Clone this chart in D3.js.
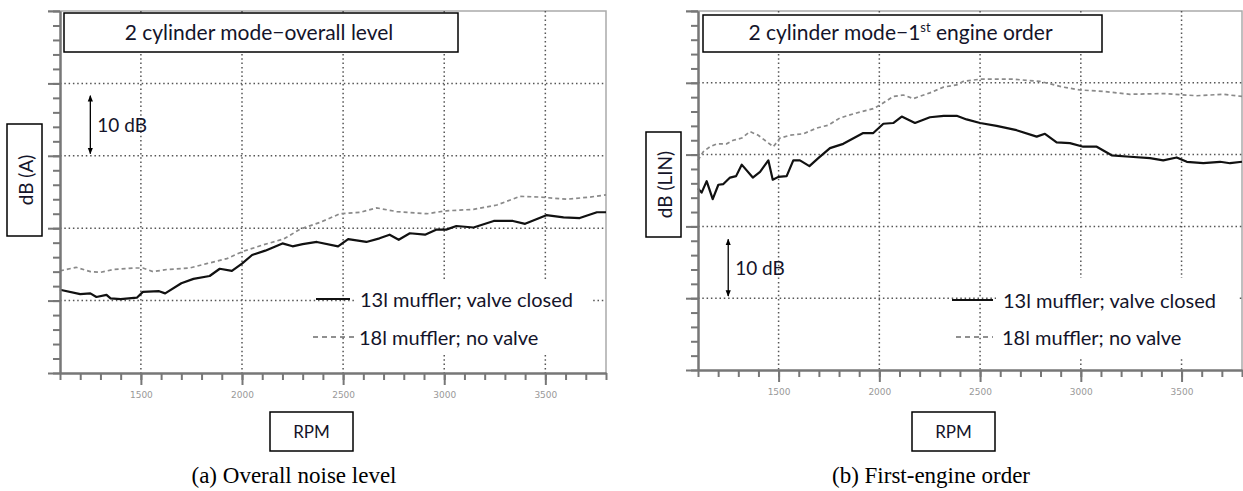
<!DOCTYPE html>
<meta charset="utf-8">
<style>
body { margin: 0; background: #fff; }
text { font-family: Lato, "Open Sans", sans-serif; fill: #14142a; }
.tick text { font-family: "DejaVu Sans", sans-serif; fill: #999; }
.caption { font-family: "Liberation Serif", "Times New Roman", serif; fill: #000; }
</style>
<body>
<script src="https://d3js.org/d3.v7.min.js"></script>
<script>
// RPM and level (level in arbitrary units, 10 per grid step)
var rpmA13 = [1100,1200,1250,1280,1330,1350,1400,1480,1510,1590,1620,1700,1760,1840,1890,1950,2000,2050,2115,2200,2250,2300,2370,2475,2525,2615,2680,2730,2775,2830,2905,2960,3010,3060,3145,3245,3340,3400,3505,3590,3670,3755,3800];
var dbA13  = [11.5,10.9,11.0,10.5,10.8,10.3,10.2,10.4,11.2,11.3,11.0,12.4,13.0,13.4,14.4,14.1,15.1,16.3,16.9,17.9,17.5,17.8,18.1,17.5,18.5,18.1,18.6,19.1,18.4,19.3,19.1,19.8,19.8,20.3,20.1,21.0,21.0,20.6,21.8,21.5,21.4,22.2,22.2];

var rpmA18 = [1100,1180,1250,1300,1365,1460,1510,1560,1630,1740,1825,1925,2005,2105,2205,2290,2385,2485,2585,2665,2765,2915,3010,3145,3260,3375,3475,3605,3720,3800];
var dbA18  = [14.1,14.6,14.0,13.9,14.3,14.5,14.5,14.0,14.3,14.5,15.1,15.8,16.8,17.7,18.5,19.9,20.8,22.0,22.2,22.8,22.3,22.0,22.4,22.6,23.2,24.4,24.3,24.0,24.3,24.6];

var rpmL13 = [1100,1118,1143,1173,1201,1226,1259,1289,1317,1372,1408,1449,1471,1499,1540,1573,1606,1653,1697,1755,1821,1920,1970,2020,2069,2111,2177,2251,2320,2384,2433,2500,2582,2681,2781,2822,2880,2946,3012,3079,3153,3244,3343,3409,3476,3526,3608,3691,3741,3800];
var dbL13  = [25.3,24.7,26.3,23.8,25.8,25.9,26.8,27.0,28.6,26.8,27.6,29.2,26.5,26.9,27.0,29.2,29.2,28.4,29.5,30.9,31.5,33.0,33.0,34.3,34.4,35.3,34.4,35.2,35.4,35.4,34.9,34.4,34.0,33.4,32.5,32.9,31.7,31.6,31.1,31.1,29.9,29.7,29.5,29.2,29.6,29.0,28.8,29.0,28.8,29.0];

var rpmL18 = [1100,1126,1160,1193,1242,1275,1317,1358,1399,1441,1474,1507,1557,1623,1689,1747,1804,1887,1970,2003,2069,2119,2169,2251,2318,2384,2417,2500,2665,2797,2913,2996,3112,3244,3409,3575,3707,3800];
var dbL18  = [29.2,30.4,31.1,31.5,31.5,32.0,32.3,33.2,32.7,31.8,31.1,32.3,32.7,32.9,33.7,34.1,35.1,35.8,36.4,36.9,38.1,38.3,37.8,38.6,39.4,39.7,40.2,40.5,40.5,40.2,39.4,39.0,38.8,38.4,38.5,38.2,38.4,38.1];

var xTicks = [1500, 2000, 2500, 3000, 3500];
var yGrid = [10, 20, 30, 40];
var legendLabels = ["13l muffler; valve closed", "18l muffler; no valve"];

var svg = d3.select("body").append("svg")
    .attr("width", 1243)
    .attr("height", 491);

var defs = svg.append("defs");
defs.append("marker").attr("id", "arr")
    .attr("viewBox", "0 0 10 10").attr("refX", 9).attr("refY", 5)
    .attr("markerWidth", 5).attr("markerHeight", 5)
    .attr("orient", "auto-start-reverse")
  .append("path").attr("d", "M0,1L10,5L0,9Z").attr("fill", "#000");

function panel(p) {
  var x = d3.scaleLinear().domain([1100, 3800]).range([p.left, p.right]);
  var y = d3.scaleLinear().domain([0, 50]).range([p.bottom, p.top]);
  var g = svg.append("g");

  // frame top + right
  g.append("path")
      .attr("d", "M" + (p.left - 12) + "," + p.top + "H" + p.right + "V" + p.bottom)
      .attr("fill", "none").attr("stroke", "#aaa").attr("stroke-width", 1.5);

  // dotted grid
  g.selectAll(".hg").data(yGrid).enter().append("line")
      .attr("x1", p.left).attr("x2", p.right)
      .attr("y1", function(d) { return y(d); }).attr("y2", function(d) { return y(d); })
      .attr("stroke", "#555").attr("stroke-width", 1.5).attr("stroke-dasharray", "1.5,2.8");
  g.selectAll(".vg").data(xTicks).enter().append("line")
      .attr("y1", p.top).attr("y2", p.bottom)
      .attr("x1", function(d) { return x(d); }).attr("x2", function(d) { return x(d); })
      .attr("stroke", "#555").attr("stroke-width", 1.5).attr("stroke-dasharray", "1.5,2.8");

  // title box
  g.append("rect").attr("x", p.title[0]).attr("y", p.title[1])
      .attr("width", p.title[2]).attr("height", p.title[3])
      .attr("fill", "#fff").attr("stroke", "#000").attr("stroke-width", 1.5);
  var tt = g.append("text")
      .attr("x", p.title[0] + p.title[2] / 2 - 2).attr("y", 40)
      .attr("text-anchor", "middle").style("font-size", "21px");
  p.titleText(tt);

  // legend background hides grid
  g.append("rect").attr("x", p.leg[0]).attr("y", p.leg[1])
      .attr("width", p.leg[2]).attr("height", p.leg[3]).attr("fill", "#fff");

  var line = d3.line()
      .x(function(d) { return x(d[0]); })
      .y(function(d) { return y(d[1]); });

  g.append("path").datum(d3.zip(p.rpm18, p.db18))
      .attr("d", line).attr("fill", "none")
      .attr("stroke", "#8a8a8a").attr("stroke-width", 1.7).attr("stroke-dasharray", "4,3");
  g.append("path").datum(d3.zip(p.rpm13, p.db13))
      .attr("d", line).attr("fill", "none")
      .attr("stroke", "#111").attr("stroke-width", 2.2).attr("stroke-linejoin", "round");

  // legend
  g.append("line").attr("x1", p.ls[0]).attr("x2", p.ls[1]).attr("y1", p.ls[2]).attr("y2", p.ls[2])
      .attr("stroke", "#111").attr("stroke-width", 2);
  g.append("line").attr("x1", p.ld[0]).attr("x2", p.ld[1]).attr("y1", p.ld[2]).attr("y2", p.ld[2])
      .attr("stroke", "#222").attr("stroke-width", 1.2).attr("stroke-dasharray", "5,4");
  g.append("text").attr("x", p.lt[0]).attr("y", p.ls[2] + 8)
      .style("font-size", "20px").text(legendLabels[0]);
  g.append("text").attr("x", p.lt[1]).attr("y", p.ld[2] + 8)
      .style("font-size", "20px").text(legendLabels[1]);

  // axes
  var axCol = "#777";
  var yMinor = g.append("g").attr("transform", "translate(" + p.left + ",0)")
      .call(d3.axisLeft(y).tickValues(d3.range(0, 51, 2)).tickSize(7).tickSizeOuter(0).tickFormat(""));
  var yMajor = g.append("g").attr("transform", "translate(" + p.left + ",0)")
      .call(d3.axisLeft(y).tickValues(d3.range(0, 51, 10)).tickSize(12).tickSizeOuter(0).tickFormat(""));
  var xMinor = g.append("g").attr("transform", "translate(0," + p.bottom + ")")
      .call(d3.axisBottom(x).tickValues(d3.range(1100, 3801, 100)).tickSize(7).tickSizeOuter(0).tickFormat(""));
  var xMajor = g.append("g").attr("transform", "translate(0," + p.bottom + ")")
      .call(d3.axisBottom(x).tickValues(xTicks).tickSize(12).tickSizeOuter(0).tickPadding(7).tickFormat(d3.format("d")));
  [yMinor, yMajor, xMinor, xMajor].forEach(function(a) {
    a.selectAll("path, line").attr("stroke", axCol).attr("stroke-width", 2);
  });
  xMajor.selectAll("text").style("font-size", "9px");

  // y label box
  g.append("rect").attr("x", p.yl[0]).attr("y", p.yl[1]).attr("width", p.yl[2]).attr("height", p.yl[3])
      .attr("fill", "#fff").attr("stroke", "#000").attr("stroke-width", 1.5);
  g.append("text")
      .attr("transform", "translate(" + (p.yl[0] + p.yl[2] / 2 + 8.5) + "," + (p.yl[1] + p.yl[3] / 2) + ") rotate(-90)")
      .attr("text-anchor", "middle").style("font-size", "19px").text(p.ylabel);

  // RPM box
  g.append("rect").attr("x", p.xl[0]).attr("y", 412).attr("width", p.xl[1]).attr("height", 39)
      .attr("fill", "#fff").attr("stroke", "#000").attr("stroke-width", 1.5);
  g.append("text").attr("x", p.xl[0] + p.xl[1] / 2).attr("y", 438)
      .attr("text-anchor", "middle").style("font-size", "17px").text("RPM");

  // 10 dB scale arrow
  g.append("line").attr("x1", x(1250)).attr("x2", x(1250))
      .attr("y1", y(p.arrow[0])).attr("y2", y(p.arrow[1]))
      .attr("stroke", "#000").attr("stroke-width", 1.3)
      .attr("marker-start", "url(#arr)").attr("marker-end", "url(#arr)");
  g.append("text").attr("x", x(1250) + 7).attr("y", (y(p.arrow[0]) + y(p.arrow[1])) / 2 + 7)
      .style("font-size", "19px").text("10 dB");

  // caption
  g.append("text").attr("class", "caption")
      .attr("x", p.cap[0]).attr("y", 483)
      .attr("text-anchor", "middle").style("font-size", "23px").text(p.cap[1]);
}

panel({
  left: 60, right: 606, top: 11, bottom: 373,
  rpm13: rpmA13, db13: dbA13, rpm18: rpmA18, db18: dbA18,
  title: [64, 13, 394, 39],
  titleText: function(t) { t.text("2 cylinder mode\u2212overall level"); },
  leg: [355, 279, 237, 76],
  ls: [316, 350, 299], ld: [313, 355, 337], lt: [360, 359],
  yl: [7, 124, 35, 112], ylabel: "dB (A)",
  xl: [270, 83],
  arrow: [30.3, 38.3],
  cap: [294, "(a) Overall noise level"]
});

panel({
  left: 698, right: 1242, top: 11, bottom: 370,
  rpm13: rpmL13, db13: dbL13, rpm18: rpmL18, db18: dbL18,
  title: [703, 15, 399, 37],
  titleText: function(t) {
    t.append("tspan").text("2 cylinder mode\u22121");
    t.append("tspan").attr("dy", -8).style("font-size", "13px").text("st");
    t.append("tspan").attr("dy", 8).text(" engine order");
  },
  leg: [996, 278, 242, 79],
  ls: [952, 993, 300], ld: [956, 993, 337], lt: [1003, 1002],
  yl: [646, 132, 35, 105], ylabel: "dB (LIN)",
  xl: [912, 83],
  arrow: [10.3, 18.2],
  cap: [931, "(b) First-engine order"]
});
</script>
</body>
